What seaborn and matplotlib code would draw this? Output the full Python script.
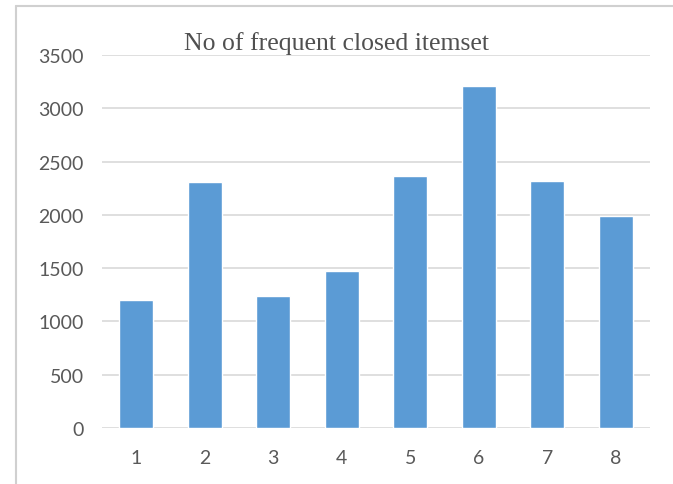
import matplotlib
matplotlib.use("Agg")
import matplotlib.pyplot as plt
import seaborn as sns
import pandas as pd
from matplotlib.lines import Line2D

categories = ["1", "2", "3", "4", "5", "6", "7", "8"]
values = [1200, 2310, 1240, 1470, 2365, 3210, 2320, 1990]
yticks = [0, 500, 1000, 1500, 2000, 2500, 3000, 3500]
title = "No of frequent closed itemset"

sns.set_theme(style="white")
plt.rcParams['font.family'] = ['Lato', 'DejaVu Sans']

df = pd.DataFrame({"cat": categories, "val": values})

fig = plt.figure(figsize=(6.73, 4.85), dpi=100)
W, H = 673, 485
ax = fig.add_axes([102 / W, 56 / H, (650 - 102) / W, (429 - 56) / H])

sns.barplot(data=df, x="cat", y="val", color="#5B9BD5", width=0.5,
            saturation=1, ax=ax, zorder=3)

ax.set_ylim(0, 3500)
ax.set_xlim(-0.5, len(categories) - 0.5)
ax.set_yticks(yticks)
ax.set_yticklabels([str(t) for t in yticks])
ax.yaxis.grid(True, color="#d9d9d9", linewidth=1.2, zorder=0)
ax.set_axisbelow(True)
for s in ax.spines.values():
    s.set_visible(False)
ax.tick_params(axis="both", length=0, labelsize=14, labelcolor="#595959")
ax.tick_params(axis="y", pad=13)
ax.tick_params(axis="x", pad=15)
ax.set_xlabel("")
ax.set_ylabel("")

fig.text(337 / W, 1 - 50 / H, title, ha="center", va="baseline",
         fontsize=18.5, color="#505050", family=["Liberation Serif", "DejaVu Serif"])

# outer chart frame (partially visible)
fig.add_artist(Line2D([15.5 / W, 15.5 / W], [0, 1 - 7 / H], transform=fig.transFigure,
                      color="#d0d0d0", linewidth=1.5))
fig.add_artist(Line2D([15.5 / W, 1], [1 - 7 / H, 1 - 7 / H], transform=fig.transFigure,
                      color="#d0d0d0", linewidth=1.5))

fig.savefig("out.png", dpi=100)
